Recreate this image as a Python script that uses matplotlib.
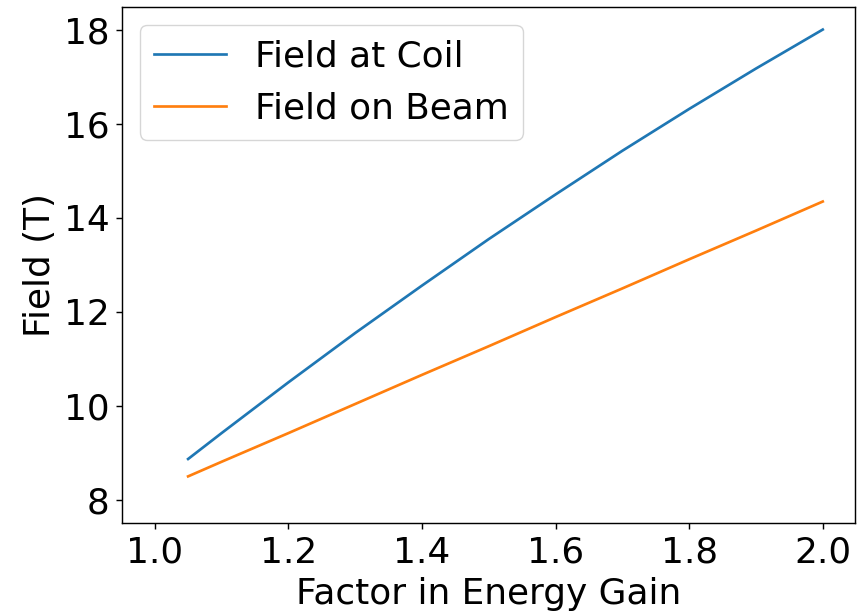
import matplotlib
matplotlib.use("Agg")
import matplotlib.pyplot as plt

factor = [1.05, 1.10, 1.20, 1.30, 1.40, 1.50, 1.60, 1.70, 1.80, 1.90, 2.00]
field_coil = [8.87, 9.42, 10.50, 11.55, 12.56, 13.55, 14.50, 15.43, 16.32, 17.18, 18.01]
field_beam = [8.50, 8.81, 9.42, 10.04, 10.66, 11.27, 11.89, 12.50, 13.12, 13.73, 14.35]

s = 1.29
plt.rcParams['font.size'] = 20 * s
plt.rcParams['axes.linewidth'] = 0.8 * s
plt.rcParams['xtick.major.width'] = 0.8 * s
plt.rcParams['ytick.major.width'] = 0.8 * s
plt.rcParams['xtick.major.size'] = 3.5 * s
plt.rcParams['ytick.major.size'] = 3.5 * s
plt.rcParams['xtick.major.pad'] = 3.5 * s
plt.rcParams['ytick.major.pad'] = 3.5 * s

fig = plt.figure(figsize=(8.65, 6.15), dpi=100)
ax = fig.add_axes([0.141, 0.149, 0.848, 0.8396])
ax.plot(factor, field_coil, color='#1f77b4', lw=1.5 * s, label='Field at Coil')
ax.plot(factor, field_beam, color='#ff7f0e', lw=1.5 * s, label='Field on Beam')
ax.set_xlim(0.951, 2.049)
ax.set_ylim(7.5, 18.49)
ax.set_xticks([1.0, 1.2, 1.4, 1.6, 1.8, 2.0])
ax.set_yticks([8, 10, 12, 14, 16, 18])
ax.set_xlabel('Factor in Energy Gain', labelpad=4 * s)
ax.set_ylabel('Field (T)', labelpad=4 * s)
ax.legend(loc='upper left')
fig.savefig('out.png', dpi=100)
